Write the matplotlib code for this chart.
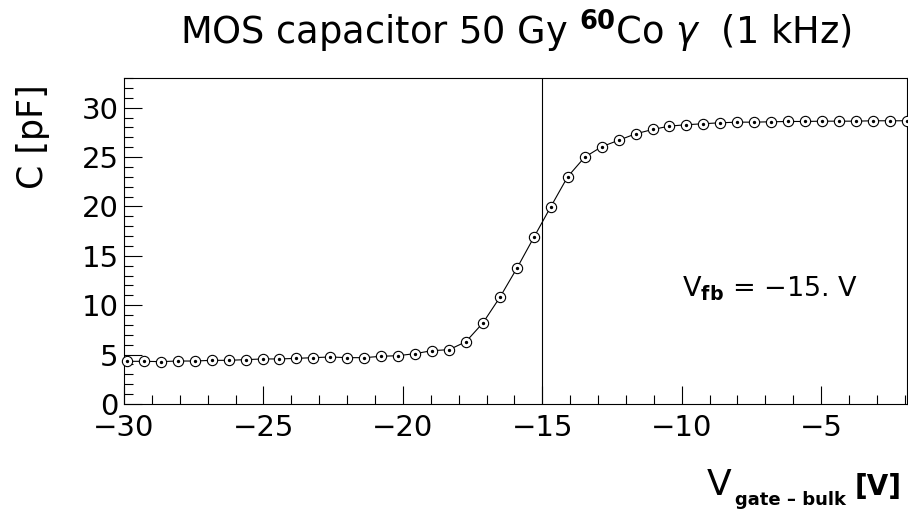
import matplotlib
matplotlib.use("Agg")
import matplotlib.pyplot as plt
from matplotlib.ticker import MultipleLocator

# gate-bulk voltage [V] and capacitance [pF]
v_gate = [-29.90, -29.29, -28.68, -28.08, -27.47, -26.86, -26.25, -25.64,
          -25.03, -24.43, -23.82, -23.21, -22.60, -21.99, -21.38, -20.78,
          -20.17, -19.56, -18.95, -18.34, -17.74, -17.13, -16.52, -15.91,
          -15.30, -14.69, -14.09, -13.48, -12.87, -12.26, -11.65, -11.04,
          -10.44, -9.83, -9.22, -8.61, -8.00, -7.39, -6.79, -6.18,
          -5.57, -4.96, -4.35, -3.74, -3.14, -2.53, -1.92]
cap = [4.32, 4.32, 4.29, 4.35, 4.35, 4.42, 4.42, 4.49,
       4.56, 4.56, 4.62, 4.69, 4.76, 4.69, 4.69, 4.83,
       4.89, 5.10, 5.40, 5.50, 6.30, 8.20, 10.80, 13.74,
       16.88, 19.99, 23.00, 24.98, 26.04, 26.70, 27.35, 27.79,
       28.13, 28.27, 28.37, 28.47, 28.53, 28.53, 28.57, 28.60,
       28.60, 28.63, 28.63, 28.63, 28.67, 28.67, 28.67]
v_fb = -15.0

plt.rcParams['font.family'] = ['DejaVu Sans']
plt.rcParams['mathtext.fontset'] = 'dejavusans'

W, H = 908, 515
fig = plt.figure(figsize=(W/100, H/100), dpi=100)
ax = fig.add_axes([124/W, 1-404/H, (907-124)/W, (404-78)/H])

ax.plot(v_gate, cap, color='black', lw=0.8, zorder=2)
ax.plot(v_gate, cap, ls='none', marker='o', ms=7.4, mfc='white', mec='black',
        mew=0.8, zorder=3, clip_on=False)
ax.plot(v_gate, cap, ls='none', marker='o', ms=1.4, color='black', zorder=4,
        clip_on=False)
ax.axvline(v_fb, color='black', lw=0.8, zorder=1)

ax.set_xlim(-30, -1.92)
ax.set_ylim(0, 33)
ax.xaxis.set_major_locator(MultipleLocator(5))
ax.xaxis.set_minor_locator(MultipleLocator(1))
ax.yaxis.set_major_locator(MultipleLocator(5))
ax.yaxis.set_minor_locator(MultipleLocator(1))
ax.tick_params(which='both', direction='in', top=False, right=False, width=0.8)
ax.tick_params(which='major', length=13, labelsize=21)
ax.tick_params(axis='x', which='major', pad=7.5)
ax.tick_params(axis='y', which='major', pad=4)
ax.tick_params(which='minor', length=6.5)
for s in ax.spines.values():
    s.set_linewidth(0.8)

ax.set_title(r"MOS capacitor 50 Gy $^{\mathbf{60}}$Co $\gamma$  (1 kHz)",
             fontsize=26.5, pad=24)
ax.set_ylabel("C [pF]", fontsize=25, ha='right')
ax.yaxis.set_label_coords(-0.094, 0.98)

# x axis title: V, bold subscript, bold unit
fig.text(707/W, 1-495/H, "V", fontsize=26, ha='left', va='baseline')
fig.text(735/W, 1-505/H, "gate \u2013 bulk", fontsize=13, fontweight='bold',
         ha='left', va='baseline')
fig.text(902/W, 1-495/H, "[V]", fontsize=20, fontweight='bold',
         ha='right', va='baseline')

ax.text(-10, 11.7, r"V$_{\mathbf{fb}}$ = $-$15. V", fontsize=19.5,
        ha='left', va='center')

fig.savefig("out.png", dpi=100)
